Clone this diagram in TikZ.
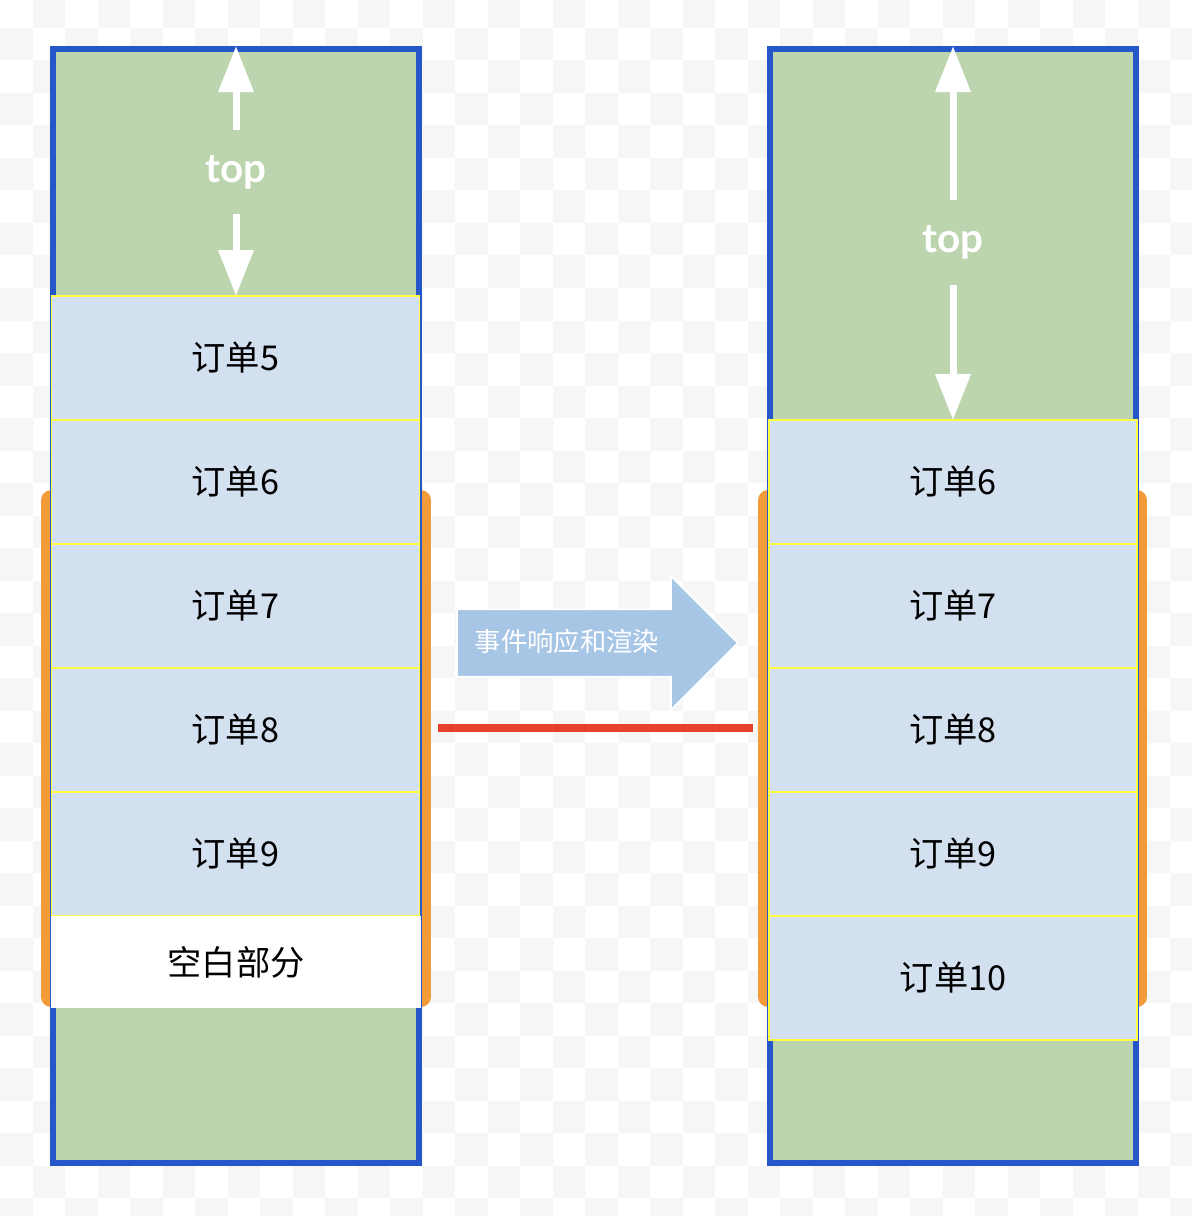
\documentclass[tikz,border=0pt]{standalone}
\usepackage{fontspec}
\usepackage{xcolor}
\usepackage{tikz}
\setmainfont{Noto Sans CJK SC}
\newfontfamily\toplabelfont{Lato}
\usetikzlibrary{shapes.geometric, shapes.arrows, arrows.meta, positioning, calc}
\definecolor{colgreen}{HTML}{BDD5AE}
\definecolor{colblue}{HTML}{2557C8}
\definecolor{colorder}{HTML}{D3E0F0}
\definecolor{colyellow}{HTML}{FFFF44}
\definecolor{colorange}{HTML}{F39B38}
\definecolor{colred}{HTML}{E8402A}
\definecolor{colevent}{HTML}{A7C5E5}
\definecolor{colchecker}{HTML}{F6F6F6}
\tikzstyle{arrow} = [white, line width=0.14cm, -{Triangle[width=0.68cm, length=0.92cm]}]
\tikzstyle{line} = [colred, line width=0.16cm, -]

\begin{document}
\begin{tikzpicture}[
    x=0.02cm, y=-0.02cm,
    node distance=0cm,
    viewport/.style={rectangle, rounded corners=0.2cm, fill=colorange, minimum height=10.34cm},
    column/.style={rectangle, draw=colblue, line width=0.12cm, fill=colgreen, minimum width=7.32cm, minimum height=22.28cm},
    order/.style={rectangle, draw=colyellow, line width=0.8pt, outer sep=0pt, fill=colorder, minimum width=7.36cm, minimum height=2.48cm, font=\fontsize{19.5}{22}\selectfont},
    blank/.style={rectangle, fill=white, minimum width=7.4cm, minimum height=1.84cm, font=\fontsize{19.5}{22}\selectfont},
    toplabel/.style={text=white, font=\toplabelfont\bfseries\fontsize{23}{26}\selectfont, inner sep=0pt},
    event/.style={single arrow, single arrow head extend=0.66cm, minimum height=5.62cm, fill=colevent, draw=white, line width=1pt, text=white, font=\fontsize{15}{17}\selectfont, inner xsep=0pt, inner ysep=0.4cm, text height=0.42cm, text depth=0.1cm}
]
    \useasboundingbox (0,0) rectangle (1192,1216);
    % transparent background squares
    \foreach \i in {0,...,36} {
        \foreach \j in {0,...,37} {
            \pgfmathtruncatemacro\odd{mod(\i+\j,2)}
            \ifnum\odd=1
                \fill[colchecker] (32.5*\i,-4.5+32.5*\j) rectangle ++(32.5,32.5);
            \fi
        }
    }

    % before
    \node[viewport, minimum width=7.8cm] (lview) at (236,748.5) {};
    \node[column] (lcol) at (236,606) {};
    \node[order] (lorder5) at (235.5,358) {订单5};
    \node[order, below=of lorder5] (lorder6) {订单6};
    \node[order, below=of lorder6] (lorder7) {订单7};
    \node[order, below=of lorder7] (lorder8) {订单8};
    \node[order, below=of lorder8] (lorder9) {订单9};
    \node[blank] (lblank) at (236,962) {空白部分};

    \node[toplabel, minimum height=1.68cm] (ltop) at (236,172) {top};
    \draw[arrow] (ltop) -- (ltop |- lcol.north);
    \draw[arrow] (ltop) -- (ltop |- lorder5.north);

    % after
    \node[viewport, minimum width=7.78cm] (rview) at (952.5,748.5) {};
    \node[column] (rcol) at (953,606) {};
    \node[order] (rorder6) at (953,482) {订单6};
    \node[order, below=of rorder6] (rorder7) {订单7};
    \node[order, below=of rorder7] (rorder8) {订单8};
    \node[order, below=of rorder8] (rorder9) {订单9};
    \node[order, below=of rorder9] (rorder10) {订单10};

    \node[toplabel, minimum height=1.7cm] (rtop) at (953,242.5) {top};
    \draw[arrow] (rtop) -- (rtop |- rcol.north);
    \draw[arrow] (rtop) -- (rtop |- rorder6.north);

    % middle
    \node[event, anchor=tail] (event) at (456,643) {\hspace*{0.06cm}事件响应和渲染\hspace*{0.6cm}};
    \coordinate (redl) at (438,728);
    \coordinate (redr) at (753,728);
    \draw[line] (redl) -- (redr);
\end{tikzpicture}
\end{document}
